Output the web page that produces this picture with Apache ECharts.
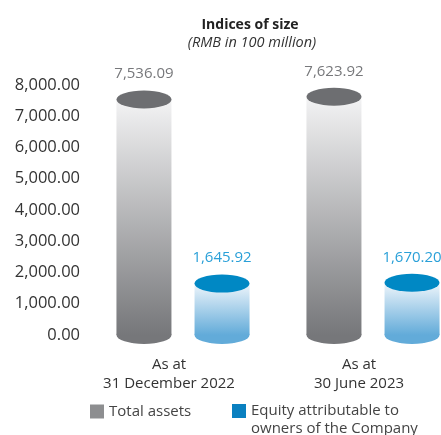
<!DOCTYPE html>
<html>
<head>
<meta charset="utf-8">
<script src="https://cdn.jsdelivr.net/npm/echarts@6/dist/echarts.min.js"></script>
<style>
  html, body { margin: 0; padding: 0; background: #fff; overflow: hidden; }
  /* the second group's slot runs past the right edge of the picture */
  #chart { width: 468px; height: 435px; }
</style>
</head>
<body>
<div id="chart"></div>
<script>
// data
const periods = ['As at\n31 December 2022', 'As at\n30 June 2023'];
const totalAssets = [7536.09, 7623.92];
const equity = [1645.92, 1670.20];
const yTicks = [0, 1000, 2000, 3000, 4000, 5000, 6000, 7000, 8000];

const FONT = 'Open Sans';
const fmt = v => Number(v).toLocaleString('en-US', { minimumFractionDigits: 2, maximumFractionDigits: 2 });

const chart = echarts.init(document.getElementById('chart'));

// gradient body for the cylinders
function body(top, bottom) {
    return new echarts.graphic.LinearGradient(0, 0, 0, 1, [
        { offset: 0, color: top },
        { offset: 1, color: bottom }
    ]);
}

const ellipse = [55, 18];
const shift = 39; // half the distance between the two cylinders of a group

const option = {
    animation: false,
    title: [
        {
            text: 'Indices of size', left: 245, top: 13, textAlign: 'center',
            textStyle: { fontFamily: FONT, fontSize: 14, fontWeight: 'bold', color: '#222' }
        },
        {
            text: '(RMB in 100 million)', left: 247, top: 30, textAlign: 'center',
            textStyle: { fontFamily: FONT, fontSize: 14.5, fontStyle: 'italic', fontWeight: 'normal', color: '#333' }
        }
    ],
    legend: [
        {
            left: 90, top: 404, padding: 0, itemWidth: 14, itemHeight: 14,
            icon: 'rect',
            data: [{ name: 'Total assets', itemStyle: { color: '#8d8e90' } }],
            textStyle: { fontFamily: FONT, fontSize: 15, color: '#444' }
        },
        {
            // leading blank line keeps the first text line level with the icon
            left: 232, top: 384, padding: 0, itemWidth: 14, itemHeight: 14,
            icon: 'rect',
            data: [{ name: 'Equity attributable to owners of the Company', itemStyle: { color: '#0a80c0' } }],
            formatter: n => '\n' + n.replace(' owners', '\nowners'),
            textStyle: { fontFamily: FONT, fontSize: 15, color: '#444', lineHeight: 18 }
        }
    ],
    grid: { left: 88, right: 0, top: 85, bottom: 100 },
    xAxis: {
        type: 'category',
        data: periods,
        axisLine: { show: false },
        axisTick: { show: false },
        axisLabel: {
            margin: 20, padding: [0, 28, 0, 0],
            fontFamily: FONT, fontSize: 15, lineHeight: 19, color: '#333'
        }
    },
    yAxis: {
        type: 'value',
        min: yTicks[0],
        max: yTicks[yTicks.length - 1],
        interval: yTicks[1] - yTicks[0],
        splitLine: { show: false },
        axisLine: { show: false },
        axisTick: { show: false },
        axisLabel: {
            margin: 8, formatter: fmt,
            fontFamily: FONT, fontSize: 16.5, color: '#333'
        }
    },
    series: [
        {
            name: 'Total assets', type: 'bar', data: totalAssets,
            barWidth: 55, barGap: '42%', z: 2,
            itemStyle: { color: body('#f3f3f4', '#76777a') },
            label: {
                show: true, position: 'top', distance: 18, formatter: p => fmt(p.value),
                fontFamily: FONT, fontSize: 15, color: '#77787b'
            }
        },
        {
            name: 'Equity attributable to owners of the Company', type: 'bar', data: equity,
            barWidth: 55, z: 2,
            itemStyle: { color: body('#eef5fb', '#62abd9') },
            label: {
                show: true, position: 'top', distance: 18, formatter: p => fmt(p.value),
                fontFamily: FONT, fontSize: 15, color: '#2aa0d8'
            }
        },
        // top ellipses
        {
            type: 'pictorialBar', data: totalAssets, symbol: 'circle', symbolSize: ellipse,
            symbolPosition: 'end', symbolOffset: [-shift, '-50%'], barWidth: 55, barGap: '-100%', z: 3,
            itemStyle: { color: '#6d6e71' }
        },
        {
            type: 'pictorialBar', data: equity, symbol: 'circle', symbolSize: ellipse,
            symbolPosition: 'end', symbolOffset: [shift, '-50%'], barWidth: 55, barGap: '-100%', z: 3,
            itemStyle: { color: '#0088c4' }
        },
        // bottom ellipses
        {
            type: 'pictorialBar', data: totalAssets, symbol: 'circle', symbolSize: ellipse,
            symbolPosition: 'start', symbolOffset: [-shift, '50%'], barWidth: 55, barGap: '-100%', z: 1,
            itemStyle: { color: '#76777a' }
        },
        {
            type: 'pictorialBar', data: equity, symbol: 'circle', symbolSize: ellipse,
            symbolPosition: 'start', symbolOffset: [shift, '50%'], barWidth: 55, barGap: '-100%', z: 1,
            itemStyle: { color: '#62abd9' }
        }
    ]
};

chart.setOption(option);
window.addEventListener('resize', () => chart.resize());
</script>
</body>
</html>
